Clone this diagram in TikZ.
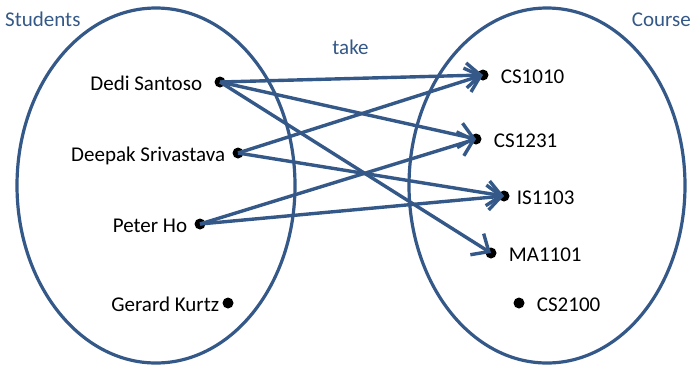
\documentclass[tikz,border=0pt]{standalone}
\usepackage{fontspec}
\setmainfont{Carlito}
\usetikzlibrary{arrows.meta}
\definecolor{setblue}{RGB}{52,88,135}

\begin{document}
\begin{tikzpicture}[x=1pt,y=-1pt,
  setline/.style={draw=setblue,line width=3.2pt},
  elem/.style={circle,fill=black,inner sep=0pt,minimum size=11pt},
  takes/.style={draw=setblue,line width=3.4pt,-{Straight Barb[length=14pt,width=25pt]}},
  title/.style={inner sep=0pt,text=setblue,font=\fontsize{21}{25}\selectfont},
  every label/.style={inner sep=0pt,text height=16pt,text depth=0pt,font=\fontsize{21}{25}\selectfont},
  label distance=12pt]

\useasboundingbox (0,0) rectangle (692,365);

% the two sets
\draw[setline] (156,185.5) ellipse [x radius=139pt, y radius=177.5pt];
\draw[setline] (547,185.5) ellipse [x radius=138pt, y radius=177.5pt];

\node[title,anchor=base west] (students) at (5,26.5) {Students};
\node[title,anchor=base east] (course) at (691,26) {Course};
\node[title,anchor=base] (take) at (350.5,54) {take};

% students
\node[elem,label=left:Dedi Santoso] (dedi) at (220,82) {};
\node[elem,label={[label distance=7pt]left:Deepak Srivastava}] (deepak) at (238,153) {};
\node[elem,label={[label distance=7pt]left:Peter Ho}] (peter) at (200,224) {};
\node[elem,label={[label distance=3pt]left:Gerard Kurtz}] (gerard) at (228,303) {};

% courses
\node[elem,label=right:CS1010] (cs1010) at (483,75) {};
\node[elem,label=right:CS1231] (cs1231) at (476,139) {};
\node[elem,label={[label distance=7pt]right:IS1103}] (is1103) at (504,196) {};
\node[elem,label=right:MA1101] (ma1101) at (491,253) {};
\node[elem,label=right:CS2100] (cs2100) at (519,303) {};

% relation
\draw[takes] (dedi.center) -- (cs1010.center);
\draw[takes] (dedi.center) -- (cs1231.center);
\draw[takes] (dedi.center) -- (ma1101.center);
\draw[takes] (deepak.center) -- (cs1010.center);
\draw[takes] (deepak.center) -- (is1103.center);
\draw[takes] (peter.center) -- (cs1231.center);
\draw[takes] (peter.center) -- (is1103.center);

\end{tikzpicture}
\end{document}
